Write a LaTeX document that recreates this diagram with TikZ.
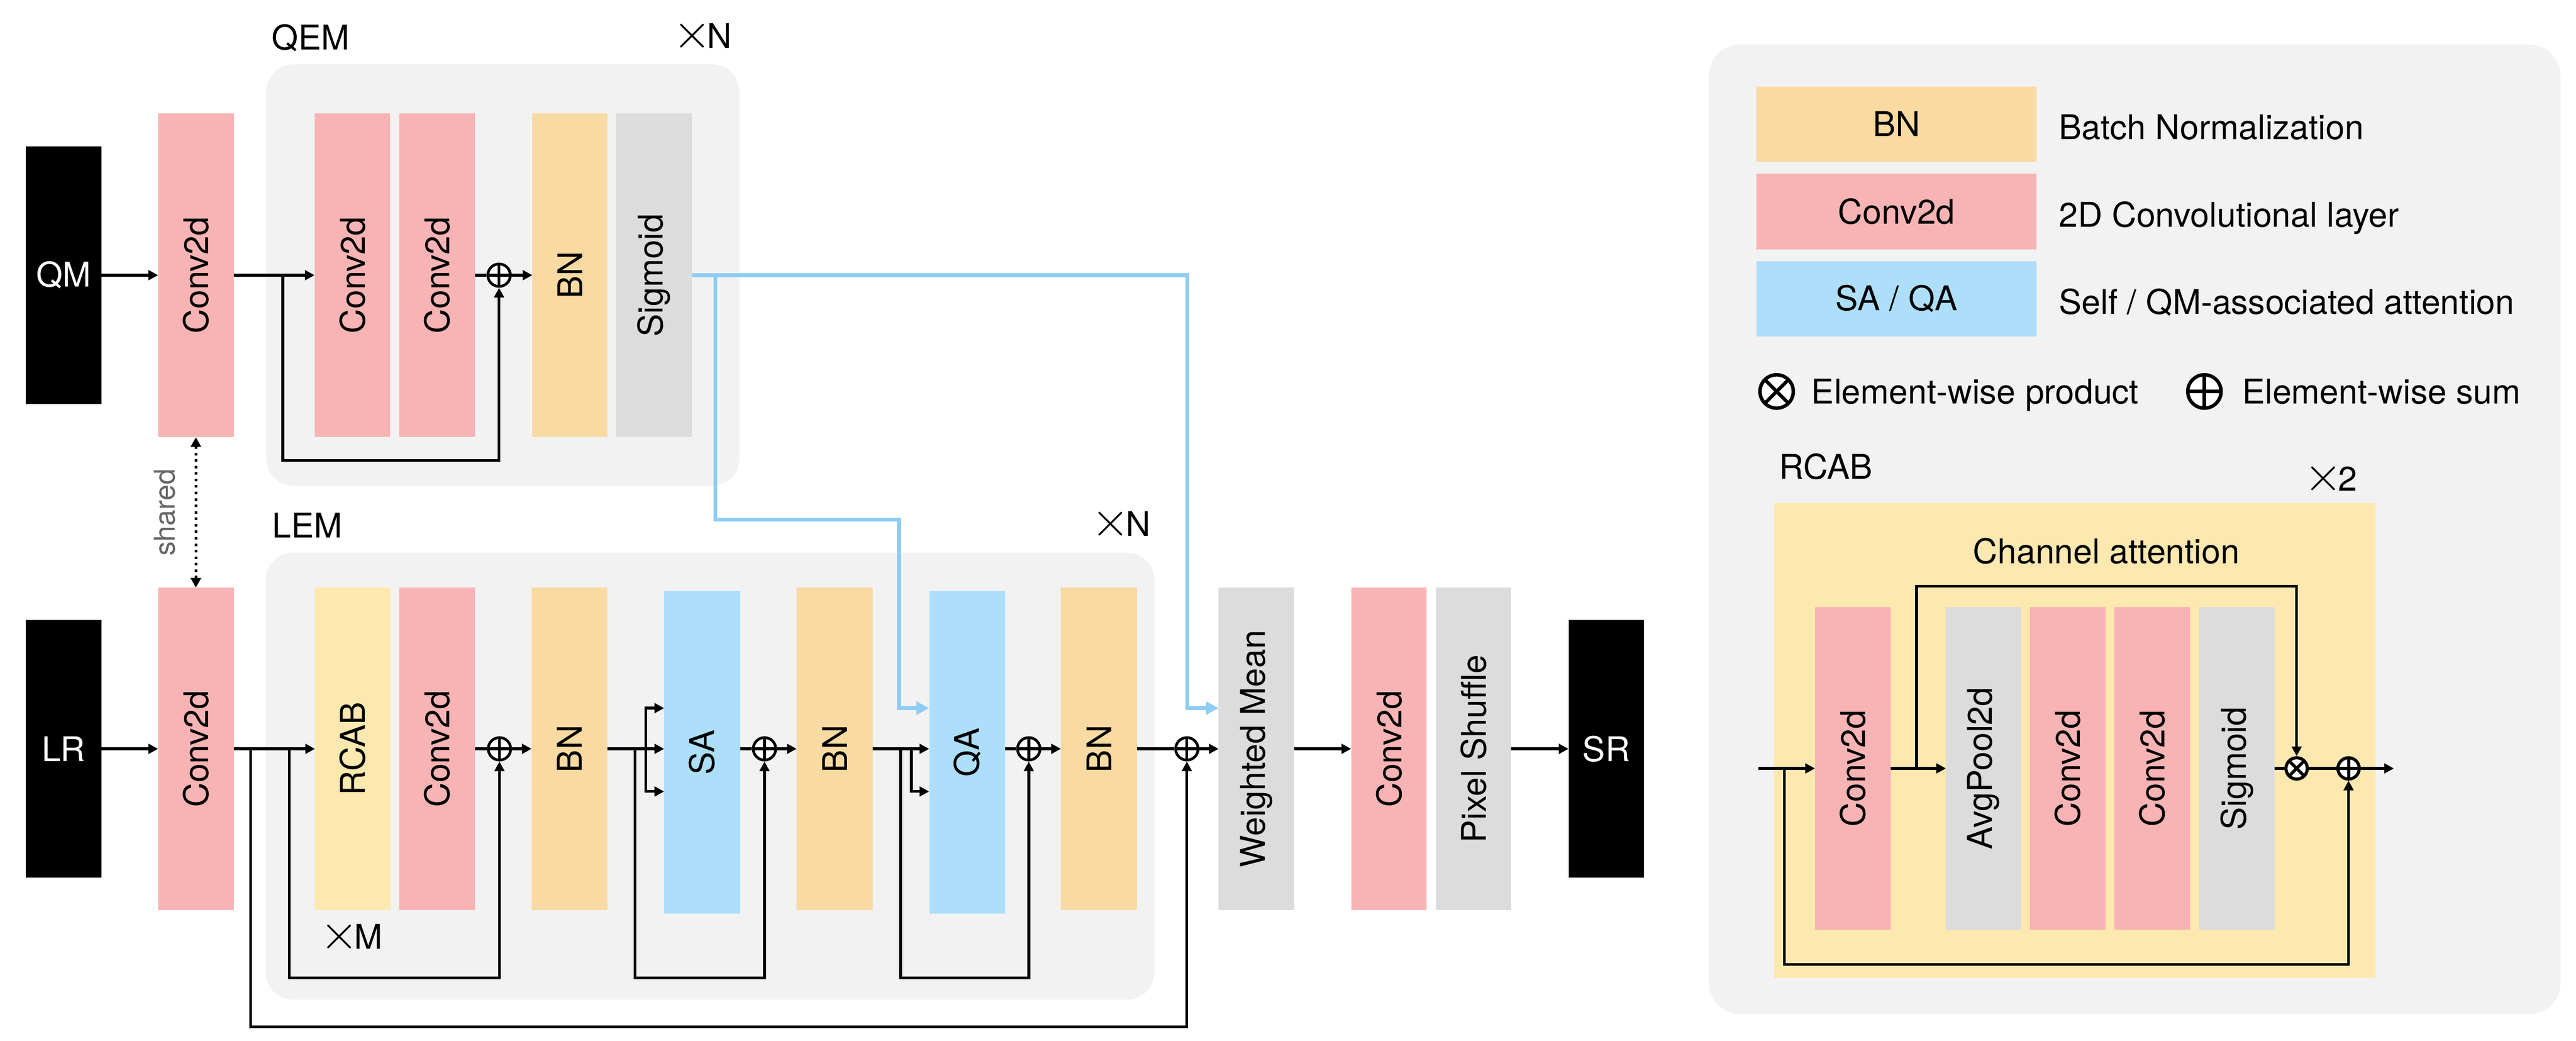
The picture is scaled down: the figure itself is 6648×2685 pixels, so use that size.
\documentclass[tikz,border=0pt]{standalone}
\usepackage{fontspec}
\usepackage{graphicx}
\setmainfont{TeX Gyre Heros}
\usetikzlibrary{arrows.meta}
\definecolor{cpink}{HTML}{F8B4B4}
\definecolor{cbn}{HTML}{F8DAA2}
\definecolor{cyel}{HTML}{FDE8B0}
\definecolor{csa}{HTML}{ADDFFA}
\definecolor{cgray}{HTML}{DCDCDC}
\definecolor{cbg}{HTML}{F2F2F2}
\definecolor{cblue}{HTML}{8DCDF3}
\definecolor{cshared}{HTML}{666666}
\newcommand{\fsz}{\fontsize{25}{30}\selectfont}
\newcommand{\bigx}{\kern-3pt\scalebox{1.45}{$\times$}\kern-3pt}
\newcommand{\rt}[1]{\rotatebox{90}{#1}}
\newcommand{\blk}[7]{%
  \pgfmathsetmacro{\bw}{(#3-#2)*0.01}%
  \pgfmathsetmacro{\bh}{(#5-#4)*0.01}%
  \node[#6, minimum width=\bw cm, minimum height=\bh cm] (#1) at ({(#2+#3)/2},{(#4+#5)/2}) {#7};%
}
\begin{document}
\begin{tikzpicture}[x=0.01cm,y=-0.01cm,
  box/.style={rectangle,inner sep=0pt,outer sep=0pt,draw=none,font=\fsz},
  lbl/.style={inner sep=0pt,font=\fsz},
  ln/.style={line width=0.07cm},
  arr/.style={ln,-{Triangle[length=0.25cm,width=0.25cm]}},
  blarr/.style={draw=cblue,line width=0.1cm,-{Triangle[length=0.33cm,width=0.33cm]}},
  plusn/.style={circle,draw,fill=white,inner sep=0pt,line width=#1,
    path picture={\draw[line width=#1] (path picture bounding box.north)--(path picture bounding box.south)
      (path picture bounding box.west)--(path picture bounding box.east);}},
  plusn/.default=0.07cm,
  timesn/.style={circle,draw,fill=white,inner sep=0pt,line width=#1,
    path picture={\draw[line width=#1] (path picture bounding box.north west)--(path picture bounding box.south east)
      (path picture bounding box.south west)--(path picture bounding box.north east);}},
  timesn/.default=0.07cm,
]
\useasboundingbox (0,0) rectangle (6648,2685);
\fill[white] (0,0) rectangle (6648,2685);

% backgrounds
\fill[cbg, rounded corners=0.7cm] (687,166) rectangle (1908,1253);
\fill[cbg, rounded corners=0.7cm] (686,1426) rectangle (2979,2579);
\fill[cbg, rounded corners=0.8cm] (4410,115) rectangle (6608,2616);
\fill[cyel] (4578,1298) rectangle (6131,2524);

% labels
\node[lbl, anchor=base west] (qemlbl) at (701,128) {QEM};
\node[lbl, anchor=base west] (qemn) at (1747,124) {\bigx N};
\node[lbl, anchor=base west] (lemlbl) at (702,1388) {LEM};
\node[lbl, anchor=base west] (lemn) at (2827,1384) {\bigx N};
\node[lbl, anchor=base west] (lemm) at (836,2448) {\bigx M};
\node[rotate=90, inner sep=0pt, text=cshared, font=\fontsize{21}{25}\selectfont] (sh) at (425,1322) {shared};

% QEM row
\blk{qm}{66}{262}{377}{1043}{box,fill=black,text=white}{QM}
\blk{qc0}{408}{603}{292}{1128}{box,fill=cpink}{\rt{Conv2d}}
\blk{qc1}{812}{1007}{292}{1128}{box,fill=cpink}{\rt{Conv2d}}
\blk{qc2}{1031}{1226}{292}{1128}{box,fill=cpink}{\rt{Conv2d}}
\blk{qbn}{1374}{1568}{292}{1128}{box,fill=cbn}{\rt{BN}}
\blk{qsig}{1590}{1785}{292}{1128}{box,fill=cgray}{\rt{Sigmoid}}
\node[plusn, minimum size=0.58cm] (qp) at (1288,710) {};

% LEM row
\blk{lr}{66}{262}{1600}{2264}{box,fill=black,text=white}{LR}
\blk{lc0}{408}{603}{1516}{2348}{box,fill=cpink}{\rt{Conv2d}}
\blk{rcab}{813}{1008}{1516}{2348}{box,fill=cyel}{\rt{RCAB}}
\blk{lc1}{1030}{1226}{1516}{2348}{box,fill=cpink}{\rt{Conv2d}}
\blk{bn1}{1372}{1568}{1516}{2348}{box,fill=cbn}{\rt{BN}}
\blk{sa}{1714}{1910}{1525}{2357}{box,fill=csa}{\rt{SA}}
\blk{bn2}{2056}{2252}{1516}{2348}{box,fill=cbn}{\rt{BN}}
\blk{qa}{2398}{2594}{1525}{2357}{box,fill=csa}{\rt{QA}}
\blk{bn3}{2738}{2934}{1516}{2348}{box,fill=cbn}{\rt{BN}}
\blk{wm}{3145}{3340}{1516}{2348}{box,fill=cgray}{\rt{Weighted Mean}}
\blk{oc}{3487}{3682}{1516}{2348}{box,fill=cpink}{\rt{Conv2d}}
\blk{ps}{3705}{3900}{1516}{2348}{box,fill=cgray}{\rt{Pixel Shuffle}}
\blk{sr}{4048}{4243}{1600}{2264}{box,fill=black,text=white}{SR}
\node[plusn, minimum size=0.58cm] (p1) at (1289,1932) {};
\node[plusn, minimum size=0.58cm] (p2) at (1973,1932) {};
\node[plusn, minimum size=0.58cm] (p3) at (2655,1932) {};
\node[plusn, minimum size=0.58cm] (p4) at (3063,1932) {};

% QEM connectors
\draw[arr] (qm.east) -- (qc0.west);
\draw[arr] (qc0.east) -- (qc1.west);
\coordinate (qb) at (730,710);
\draw[arr] (qb) -- (730,1188) -| (qp.south);
\draw[ln] (qc2.east) -- (qp.west);
\draw[arr] (qp.east) -- (qbn.west);

% shared
\draw[line width=0.067cm, dash pattern=on 0.067cm off 0.1cm,
  {Triangle[length=0.25cm,width=0.26cm]}-{Triangle[length=0.25cm,width=0.26cm]}] (qc0.south) -- (lc0.north);

% blue connectors
\coordinate (qsplit) at (1846,710);
\draw[blarr] (qsig.east) -- (3064,710) -- (3064,1827) -- (wm.west |- 0,1827);
\draw[blarr] (qsplit) -- (1846,1341) -- (2320,1341) -- (2320,1827) -- (qa.west |- 0,1827);

% LEM connectors
\draw[arr] (lr.east) -- (lc0.west);
\draw[arr] (lc0.east) -- (rcab.west);
\coordinate (ob) at (647,1932);
\draw[arr] (ob) -- (647,2649) -| (p4.south);
\coordinate (rb) at (747,1932);
\draw[arr] (rb) -- (747,2523) -| (p1.south);
\draw[ln] (lc1.east) -- (p1.west);
\draw[arr] (p1.east) -- (bn1.west);
\draw[arr] (bn1.east) -- (sa.west |- bn1.east);
\coordinate (sab) at (1667,1932);
\draw[arr] (sab) -- (1667,1827) -- (sa.west |- 0,1827);
\draw[arr] (sab) -- (1667,2042) -- (sa.west |- 0,2042);
\coordinate (sl) at (1639,1932);
\draw[arr] (sl) -- (1639,2523) -| (p2.south);
\draw[ln] (sa.east |- p2.west) -- (p2.west);
\draw[arr] (p2.east) -- (bn2.west);
\draw[arr] (bn2.east) -- (qa.west |- bn2.east);
\coordinate (qab) at (2352,1932);
\draw[arr] (qab) -- (2352,2042) -- (qa.west |- 0,2042);
\coordinate (ql) at (2324,1932);
\draw[arr] (ql) -- (2324,2523) -| (p3.south);
\draw[ln] (qa.east |- p3.west) -- (p3.west);
\draw[arr] (p3.east) -- (bn3.west);
\draw[ln] (bn3.east) -- (p4.west);
\draw[arr] (p4.east) -- (wm.west);
\draw[arr] (wm.east) -- (oc.west);
\draw[arr] (ps.east) -- (sr.west);

% legend
\blk{lgbn}{4533}{5256}{223}{417}{box,fill=cbn}{BN}
\blk{lgconv}{4533}{5256}{448}{643}{box,fill=cpink}{Conv2d}
\blk{lgsa}{4533}{5256}{674}{868}{box,fill=csa}{SA / QA}
\node[lbl, anchor=base west] (lgt1) at (5313,359) {Batch Normalization};
\node[lbl, anchor=base west] (lgt2) at (5313,586) {2D Convolutional layer};
\node[lbl, anchor=base west] (lgt3) at (5313,810) {Self / QM-associated attention};
\node[timesn=0.09cm, minimum size=0.86cm] (lgx) at (4585,1010) {};
\node[lbl, anchor=base west] (lgt4) at (4674,1042) {Element-wise product};
\node[plusn=0.09cm, minimum size=0.86cm] (lgp) at (5689,1010) {};
\node[lbl, anchor=base west] (lgt5) at (5786,1042) {Element-wise sum};

% RCAB panel
\node[lbl, anchor=base west] (rcablbl) at (4591,1236) {RCAB};
\node[lbl, anchor=base west] (rcabx) at (5956,1267) {\bigx 2};
\node[lbl, anchor=base] (chatt) at (5436,1454) {Channel attention};
\blk{rc1}{4684}{4879}{1566}{2399}{box,fill=cpink}{\rt{Conv2d}}
\blk{rap}{5022}{5216}{1566}{2399}{box,fill=cgray}{\rt{AvgPool2d}}
\blk{rc2}{5239}{5434}{1566}{2399}{box,fill=cpink}{\rt{Conv2d}}
\blk{rc3}{5457}{5652}{1566}{2399}{box,fill=cpink}{\rt{Conv2d}}
\blk{rsig}{5675}{5870}{1566}{2399}{box,fill=cgray}{\rt{Sigmoid}}
\node[timesn=0.08cm, minimum size=0.55cm] (rtm) at (5927,1982.5) {};
\node[plusn=0.08cm, minimum size=0.55cm] (rpl) at (6061,1982.5) {};
\coordinate (rin) at (4538,1982.5);
\coordinate (rout) at (6178,1982.5);
\draw[arr] (rin) -- (rc1.west);
\coordinate (rlb) at (4605,1982.5);
\draw[arr] (rlb) -- (4605,2488) -| (rpl.south);
\draw[arr] (rc1.east) -- (rap.west);
\coordinate (rtb) at (4946,1982.5);
\draw[arr] (rtb) -- (4946,1512) -| (rtm.north);
\draw[ln] (rsig.east) -- (rtm.west);
\draw[ln] (rtm.east) -- (rpl.west);
\draw[arr] (rpl.east) -- (rout);
\end{tikzpicture}
\end{document}
